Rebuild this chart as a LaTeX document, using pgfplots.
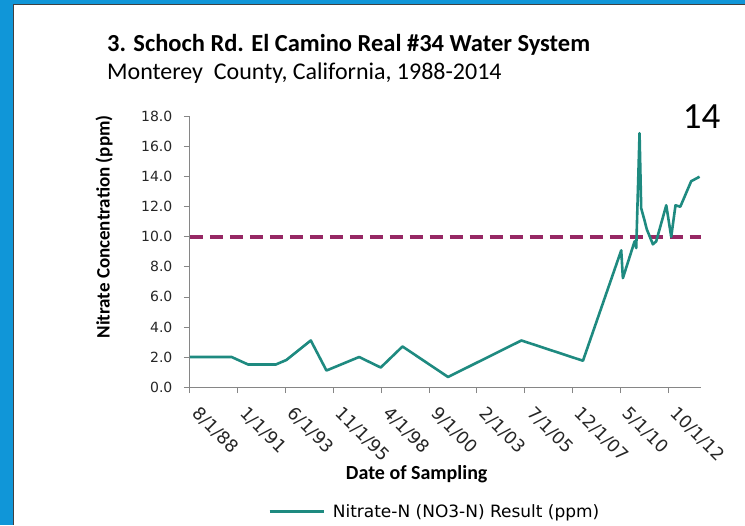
\documentclass[border=0pt]{standalone}
\usepackage{fontspec}
\setmainfont{DejaVu Sans}
\newfontfamily\calibri{Carlito}
\usepackage{pgfplots}
\pgfplotsset{compat=1.18}
\definecolor{bgblue}{RGB}{16,150,216}
\definecolor{tealline}{RGB}{30,138,128}
\definecolor{maroonline}{RGB}{150,40,100}
\definecolor{axgray}{RGB}{134,134,134}
\begin{document}
\begin{tikzpicture}[x=1pt,y=1pt]
\fill[bgblue] (0,0) rectangle (745,525);
\fill[white] (14,0) rectangle (745,520);
\draw[black!75, line width=1pt] (14,0) -- (14,520) -- (745,520);
\node[anchor=base west, inner sep=0pt, font=\calibri\bfseries\fontsize{24.5}{28}\selectfont] at (107,473) {3. Schoch Rd. El Camino Real \#34 Water System};
\node[anchor=base west, inner sep=0pt, font=\calibri\fontsize{24}{28}\selectfont] at (107,445) {Monterey\ \ County, California, 1988-2014};
\node[anchor=base east, inner sep=0pt, font=\calibri\fontsize{37}{42}\selectfont] at (721,396) {14};
\begin{axis}[
  at={(190pt,137.7pt)}, anchor=south west,
  scale only axis, width=511.7pt, height=270.6pt,
  xmin=0, xmax=310, ymin=0, ymax=18,
  axis x line*=bottom, axis y line*=left,
  axis line style={axgray, line width=0.8pt},
  tick style={axgray, line width=0.8pt},
  major tick length=6pt, tick align=outside,
  xtick={0,29,...,290},
  xticklabels={8/1/88,1/1/91,6/1/93,11/1/95,4/1/98,9/1/00,2/1/03,7/1/05,12/1/07,5/1/10,10/1/12},
  xticklabel style={anchor=north west, rotate=-45, xshift=15pt, inner sep=1pt, font=\fontsize{17.5}{19}\selectfont, text=black!85},
  ytick={0,2,...,18},
  yticklabel style={font=\fontsize{14}{16}\selectfont, text=black!85, xshift=-8pt},
  /pgf/number format/assume math mode=true,
  yticklabel={\pgfmathprintnumber[fixed, fixed zerofill, precision=1]{\tick}},
  xlabel={Date of Sampling},
  xlabel style={at={(axis description cs:0.4436,-0.324)}, anchor=center, font=\calibri\bfseries\fontsize{20}{23}\selectfont},
  ylabel={Nitrate Concentration (ppm)},
  ylabel style={at={(axis description cs:-0.168,0.592)}, anchor=center, font=\calibri\bfseries\fontsize{19}{22}\selectfont},
  legend style={at={(axis description cs:0.479,-0.461)}, anchor=center, draw=none, fill=none, font=\fontsize{17}{20}\selectfont},
  legend image code/.code={\draw[#1] (-2pt,0pt) -- (52pt,0pt);},
  clip=false,
]
\addplot[maroonline, line width=4pt, dash pattern=on 13pt off 7pt, forget plot] coordinates {(0,10) (310,10)};
\addplot[tealline, line width=2.6pt, line join=round] table {
x y
0 2.0
25.3 2.0
35.3 1.5
52.1 1.5
58.5 1.8
73.3 3.1
82.8 1.1
102.6 2.0
115.7 1.3
128.9 2.7
156.5 0.67
201 3.1
238.3 1.75
261.5 9.1
262.5 7.25
269.6 9.7
270.6 9.25
272.6 16.9
273.6 11.9
275.6 11.1
277 10.5
280.7 9.5
282.7 9.7
288.8 12.1
291.8 10.0
294.4 12.1
297.3 12.0
303.9 13.7
309 14.0
};
\addlegendentry{\hspace*{6pt}Nitrate-N (NO3-N) Result (ppm)}
\end{axis}
\end{tikzpicture}
\end{document}
